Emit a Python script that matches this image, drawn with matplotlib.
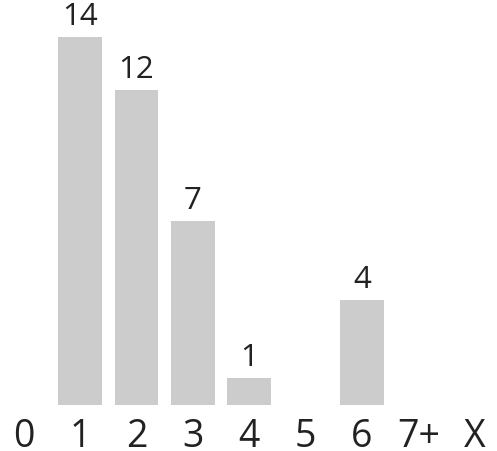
import matplotlib
matplotlib.use("Agg")
import matplotlib.pyplot as plt

categories = ["0", "1", "2", "3", "4", "5", "6", "7+", "X"]
values = [0, 14, 12, 7, 1, 0, 4, 0, 0]

plt.rcParams['font.family'] = ['Open Sans', 'DejaVu Sans']

W, H = 497, 452
fig = plt.figure(figsize=(W / 100, H / 100), dpi=100)
base_px = 405.7
ax = fig.add_axes([0, (H - base_px) / H, 1, base_px / H])
ax.set_xlim(-0.4165, 8.392)
ax.set_ylim(0, base_px / 26.25)
ax.axis('off')

xs = list(range(len(categories)))
ax.bar(xs, values, width=0.771, color='#cccccc', edgecolor='none')

for x, v, c in zip(xs, values, categories):
    ax.annotate(c, xy=(x, 5), xycoords=('data', 'figure pixels'),
                ha='center', va='baseline', fontsize=27, color='#222222',
                fontweight='normal', annotation_clip=False)
    if v > 0:
        ax.annotate(str(v), xy=(x, v), xytext=(0, 9.4), textcoords='offset points',
                    ha='center', va='baseline', fontsize=22.5, color='#222222',
                    fontweight='normal', annotation_clip=False)

fig.savefig("out.png", dpi=100)
